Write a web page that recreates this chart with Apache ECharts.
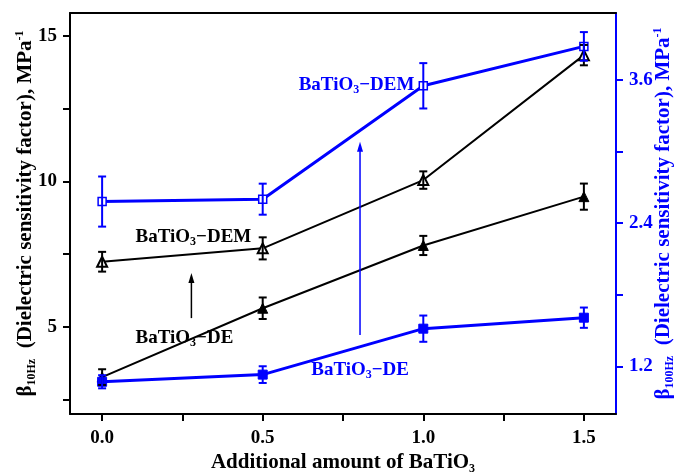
<!DOCTYPE html>
<html><head><meta charset="utf-8">
<script src="https://cdn.jsdelivr.net/npm/echarts@6/dist/echarts.min.js"></script>
<style>html,body{margin:0;padding:0;background:#fff}#c{width:679px;height:472px}</style>
</head><body><div id="c"></div>
<script>
const xValues = [0, 0.5, 1.0, 1.5];
const deBlack = [3.27, 5.64, 7.80, 9.48];
const deBlackErr = [0.27, 0.37, 0.33, 0.45];
const demBlack = [7.24, 7.70, 10.05, 14.35];
const demBlackErr = [0.34, 0.38, 0.30, 0.35];
const deBlue = [1.07, 1.13, 1.515, 1.607];
const deBlueErr = [0.055, 0.07, 0.11, 0.085];
const demBlue = [2.58, 2.60, 3.55, 3.88];
const demBlueErr = [0.21, 0.13, 0.19, 0.12];
const xTicks = [0, 0.25, 0.5, 0.75, 1.0, 1.25, 1.5];
const xLabels = [0, 0.5, 1.0, 1.5];
const leftTicks = [2.5, 5, 7.5, 10, 12.5, 15];
const leftLabels = [5, 10, 15];
const rightTicks = [1.2, 1.8, 2.4, 3.0, 3.6];
const rightLabels = [1.2, 2.4, 3.6];
const annotationLabels = ['DEM', 'DE', 'DEM', 'DE'];
const annotationX = [0.104, 0.104, 0.612, 0.651];
const annotationY = [8.09, 4.62, 13.32, 3.515];
const arrowX = [0.278, 0.803];
const arrowFrom = [5.30, 4.72];
const arrowTo = [6.85, 11.37];

const BLACK = '#000000';
const BLUE = '#0000ff';
const SERIF = '"Liberation Serif", "Times New Roman", serif';
const annotationColors = [BLACK, BLACK, BLUE, BLUE];
const arrowColors = [BLACK, BLUE];

function nameRich(color) {
  return {
    b: {fontSize: 21, fontWeight: 'bold', fontFamily: SERIF, color: color, lineHeight: 24},
    s: {fontSize: 12, fontWeight: 'bold', fontFamily: SERIF, color: color, verticalAlign: 'bottom', lineHeight: 12},
    p: {fontSize: 12, fontWeight: 'bold', fontFamily: SERIF, color: color, verticalAlign: 'top', lineHeight: 12}
  };
}

function errorSeries(vals, errs, color, yIdx, lw) {
  return {
    type: 'custom', yAxisIndex: yIdx, z: 5, silent: true,
    data: xValues.map((x, i) => [x, vals[i] - errs[i], vals[i] + errs[i]]),
    encode: {x: 0, y: [1, 2]},
    renderItem: function (params, api) {
      const lo = api.coord([api.value(0), api.value(1)]);
      const hi = api.coord([api.value(0), api.value(2)]);
      const w = 4;
      const st = {stroke: color, lineWidth: lw};
      return {type: 'group', children: [
        {type: 'line', shape: {x1: lo[0], y1: lo[1], x2: hi[0], y2: hi[1]}, style: st},
        {type: 'line', shape: {x1: lo[0] - w, y1: lo[1], x2: lo[0] + w, y2: lo[1]}, style: st},
        {type: 'line', shape: {x1: hi[0] - w, y1: hi[1], x2: hi[0] + w, y2: hi[1]}, style: st}
      ]};
    }
  };
}

const chart = echarts.init(document.getElementById('c'), null, {renderer: 'canvas'});
const tickLabelStyle = {fontSize: 19, fontWeight: 'bold', fontFamily: SERIF};

chart.setOption({
  animation: false,
  backgroundColor: '#fff',
  grid: {left: 70, right: 63, top: 13, bottom: 58, containLabel: false, outerBoundsMode: 'none'},
  xAxis: [{
    type: 'value', min: -0.1, max: 1.6, position: 'bottom',
    name: '{b|Additional amount of BaTiO}{s|3}',
    nameLocation: 'middle', nameGap: 37, nameMoveOverlap: false,
    nameTextStyle: {rich: nameRich(BLACK)},
    axisLine: {show: true, onZero: false, lineStyle: {color: BLACK, width: 2}},
    axisTick: {show: true, inside: false, length: 7, lineStyle: {color: BLACK, width: 2}, customValues: xTicks},
    axisLabel: {show: true, margin: 15, color: BLACK, ...tickLabelStyle, customValues: xLabels, formatter: v => v.toFixed(1)},
    splitLine: {show: false}
  }, {
    type: 'value', min: -0.1, max: 1.6, position: 'top',
    axisLine: {show: true, onZero: false, lineStyle: {color: BLACK, width: 2}},
    axisTick: {show: false}, axisLabel: {show: false}, splitLine: {show: false}
  }],
  yAxis: [{
    type: 'value', min: 2, max: 15.8, position: 'left',
    name: '{b|β}{s|10Hz}{b|\u2002(Dielectric sensitivity factor), MPa}{p|-1}',
    nameLocation: 'middle', nameGap: 32, nameRotate: 90, nameMoveOverlap: false,
    nameTextStyle: {rich: nameRich(BLACK)},
    axisLine: {show: true, onZero: false, lineStyle: {color: BLACK, width: 2}},
    axisTick: {show: true, inside: false, length: 7, lineStyle: {color: BLACK, width: 2}, customValues: leftTicks},
    axisLabel: {show: true, margin: 13, color: BLACK, ...tickLabelStyle, customValues: leftLabels},
    splitLine: {show: false}
  }, {
    type: 'value', min: 0.8, max: 4.16, position: 'right',
    name: '{b|β}{s|100Hz}{b|\u2002(Dielectric sensitivity factor), MPa}{p|-1}',
    nameLocation: 'middle', nameGap: 36, nameRotate: 90, nameMoveOverlap: false,
    nameTextStyle: {rich: nameRich(BLUE)},
    axisLine: {show: true, onZero: false, lineStyle: {color: BLUE, width: 2}},
    axisTick: {show: true, inside: false, length: 7, lineStyle: {color: BLUE, width: 2}, customValues: rightTicks},
    axisLabel: {show: true, margin: 13, color: BLUE, ...tickLabelStyle, customValues: rightLabels, formatter: v => v.toFixed(1)},
    splitLine: {show: false}
  }],
  series: [
    {type: 'line', yAxisIndex: 0, data: xValues.map((x, i) => [x, demBlack[i]]),
     symbol: 'triangle', symbolSize: 10, showAllSymbol: true,
     lineStyle: {color: BLACK, width: 2}, itemStyle: {color: '#ffffff', borderColor: BLACK, borderWidth: 2}, z: 3},
    {type: 'line', yAxisIndex: 0, data: xValues.map((x, i) => [x, deBlack[i]]),
     symbol: 'triangle', symbolSize: 10,
     lineStyle: {color: BLACK, width: 2}, itemStyle: {color: BLACK, borderColor: BLACK, borderWidth: 1}, z: 3},
    {type: 'line', yAxisIndex: 1, data: xValues.map((x, i) => [x, demBlue[i]]),
     symbol: 'rect', symbolSize: 8,
     lineStyle: {color: BLUE, width: 3}, itemStyle: {color: '#ffffff', borderColor: BLUE, borderWidth: 1.5}, z: 4},
    {type: 'line', yAxisIndex: 1, data: xValues.map((x, i) => [x, deBlue[i]]),
     symbol: 'rect', symbolSize: 9,
     lineStyle: {color: BLUE, width: 3}, itemStyle: {color: BLUE, borderColor: BLUE, borderWidth: 1}, z: 4},
    errorSeries(demBlack, demBlackErr, BLACK, 0, 2),
    errorSeries(deBlack, deBlackErr, BLACK, 0, 2),
    errorSeries(demBlue, demBlueErr, BLUE, 1, 2),
    errorSeries(deBlue, deBlueErr, BLUE, 1, 2),
    {
      type: 'custom', yAxisIndex: 0, silent: true, z: 6,
      data: annotationX.map((x, i) => [x, annotationY[i]]),
      encode: {x: 0, y: 1},
      renderItem: function (params, api) {
        const i = params.dataIndex;
        const p = api.coord([api.value(0), api.value(1)]);
        const c = annotationColors[i];
        return {type: 'text', x: p[0], y: p[1], style: {
          text: '{t|BaTiO}{s|3}{t|\u2212' + annotationLabels[i] + '}',
          align: 'left', verticalAlign: 'middle',
          rich: {
            t: {fontSize: 19, fontWeight: 'bold', fontFamily: SERIF, fill: c, lineHeight: 22},
            s: {fontSize: 12, fontWeight: 'bold', fontFamily: SERIF, fill: c, verticalAlign: 'bottom', lineHeight: 10}
          }
        }};
      }
    },
    {
      type: 'custom', yAxisIndex: 0, silent: true, z: 6,
      data: arrowX.map((x, i) => [x, arrowFrom[i], arrowTo[i]]),
      encode: {x: 0, y: [1, 2]},
      renderItem: function (params, api) {
        const i = params.dataIndex;
        const a = api.coord([api.value(0), api.value(1)]);
        const b = api.coord([api.value(0), api.value(2)]);
        const c = arrowColors[i];
        return {type: 'group', children: [
          {type: 'line', shape: {x1: a[0], y1: a[1], x2: b[0], y2: b[1] + 6}, style: {stroke: c, lineWidth: 1.5}},
          {type: 'polygon', shape: {points: [[b[0], b[1]], [b[0] - 3, b[1] + 10], [b[0] + 3, b[1] + 10]]}, style: {fill: c}}
        ]};
      }
    }
  ]
});
</script>
</body></html>
